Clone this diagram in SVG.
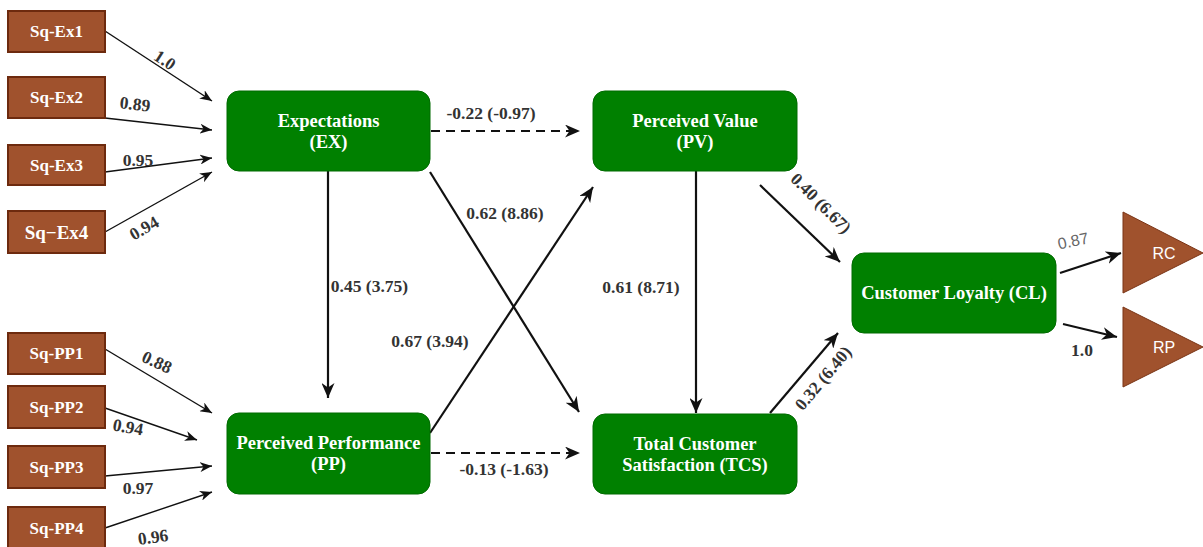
<svg xmlns="http://www.w3.org/2000/svg" width="1203" height="547" viewBox="0 0 1203 547">
<style>
.ind rect{fill:#A0522D;stroke:#6D2A0E;stroke-width:2}
.ind text{font-family:"Liberation Serif",serif;font-weight:bold;font-size:17px;fill:#fff;text-anchor:middle;dominant-baseline:central}
.lat rect{fill:#008000;stroke:#006A00;stroke-width:1}
.lat text{font-family:"Liberation Serif",serif;font-weight:bold;font-size:18.5px;fill:#fff;text-anchor:middle;dominant-baseline:central}
.tri polygon{fill:#A0522D;stroke:#7A3416;stroke-width:1}
.tri text{font-family:"Liberation Sans",Arial,sans-serif;font-size:16px;fill:#fff;text-anchor:middle;dominant-baseline:central}
.thin{stroke:#111;stroke-width:1.4;fill:none;marker-end:url(#ah1)}
.thick{stroke:#111;stroke-width:2.2;fill:none;marker-end:url(#ah2)}
.dash{stroke-dasharray:9 6}
.lbl{font-family:"Liberation Serif",serif;font-weight:bold;font-size:17.5px;fill:#333;text-anchor:middle;dominant-baseline:central}
.lbls{font-family:"Liberation Sans",Arial,sans-serif;font-size:16px;fill:#666;text-anchor:middle;dominant-baseline:central}
</style>
<defs>
<marker id="ah1" viewBox="0 0 12 10" refX="12" refY="5" markerWidth="12" markerHeight="10" markerUnits="userSpaceOnUse" orient="auto">
<path d="M0,0 L12,5 L0,10 L3.5,5 z" fill="#111"/>
</marker>
<marker id="ah2" viewBox="0 0 15 13" refX="15" refY="6.5" markerWidth="15" markerHeight="13" markerUnits="userSpaceOnUse" orient="auto">
<path d="M0,0 L15,6.5 L0,13 L4.5,6.5 z" fill="#111"/>
</marker>
</defs>

<g id="connectors">
<line class="thin" x1="105" y1="31" x2="212" y2="101"/>
<line class="thin" x1="105" y1="118" x2="212" y2="130"/>
<line class="thin" x1="105" y1="172" x2="212" y2="158"/>
<line class="thin" x1="105" y1="232" x2="212" y2="172"/>
<line class="thin" x1="105" y1="349" x2="212" y2="413"/>
<line class="thin" x1="105" y1="408" x2="197" y2="440"/>
<line class="thin" x1="105" y1="476" x2="212" y2="466"/>
<line class="thin" x1="105" y1="528" x2="212" y2="492"/>
<line class="thick dash" x1="431" y1="131" x2="580" y2="131"/>
<line class="thick" x1="328" y1="171" x2="328" y2="398"/>
<line class="thick" x1="430" y1="172" x2="579" y2="412"/>
<line class="thick" x1="430" y1="433" x2="593" y2="187"/>
<line class="thick" x1="696" y1="171" x2="696" y2="413"/>
<line class="thick dash" x1="431" y1="453" x2="580" y2="453"/>
<line class="thick" x1="760" y1="185" x2="840" y2="262"/>
<line class="thick" x1="770" y1="413" x2="838" y2="333"/>
<line class="thick" x1="1060" y1="273" x2="1121" y2="253"/>
<line class="thick" x1="1063" y1="324" x2="1117" y2="337"/>
<text class="lbl" transform="translate(165,60) rotate(33)">1.0</text>
<text class="lbl" transform="translate(135,104) rotate(6)">0.89</text>
<text class="lbl" x="138" y="160">0.95</text>
<text class="lbl" transform="translate(144,228) rotate(-30)">0.94</text>
<text class="lbl" transform="translate(157,362) rotate(25)">0.88</text>
<text class="lbl" transform="translate(128,427) rotate(10)">0.94</text>
<text class="lbl" x="138" y="488">0.97</text>
<text class="lbl" transform="translate(153,537) rotate(-8)">0.96</text>
<text class="lbl" x="491" y="113">-0.22 (-0.97)</text>
<text class="lbl" x="369.5" y="286">0.45 (3.75)</text>
<text class="lbl" x="505" y="213">0.62 (8.86)</text>
<text class="lbl" x="430" y="341">0.67 (3.94)</text>
<text class="lbl" x="641" y="287">0.61 (8.71)</text>
<text class="lbl" x="504" y="469">-0.13 (-1.63)</text>
<text class="lbl" transform="translate(821,203) rotate(45)">0.40 (6.67)</text>
<text class="lbl" transform="translate(823,378) rotate(-50)">0.32 (6.40)</text>
<text class="lbls" transform="translate(1073,241) rotate(-12)">0.87</text>
<text class="lbl" x="1082" y="350">1.0</text>
</g>

<g id="sq-ex1" class="ind"><rect x="8" y="11" width="97" height="41"/><text x="56.5" y="31.5">Sq-Ex1</text></g>
<g id="sq-ex2" class="ind"><rect x="8" y="77" width="97" height="41"/><text x="56.5" y="97.5">Sq-Ex2</text></g>
<g id="sq-ex3" class="ind"><rect x="8" y="145" width="97" height="40"/><text x="56.5" y="165">Sq-Ex3</text></g>
<g id="sq-ex4" class="ind"><rect x="8" y="211" width="97" height="42"/><text x="56.5" y="232" style="font-size:19px">Sq−Ex4</text></g>
<g id="sq-pp1" class="ind"><rect x="8" y="333" width="97" height="41"/><text x="56.5" y="353.5">Sq-PP1</text></g>
<g id="sq-pp2" class="ind"><rect x="8" y="386" width="97" height="42"/><text x="56.5" y="407">Sq-PP2</text></g>
<g id="sq-pp3" class="ind"><rect x="8" y="446" width="97" height="42"/><text x="56.5" y="467">Sq-PP3</text></g>
<g id="sq-pp4" class="ind"><rect x="8" y="507" width="97" height="42"/><text x="56.5" y="528">Sq-PP4</text></g>

<g id="ex" class="lat"><rect x="227" y="91" width="203" height="80" rx="12"/><text x="328.5" y="121">Expectations</text><text x="328.5" y="142">(EX)</text></g>
<g id="pv" class="lat"><rect x="593" y="91" width="204" height="80" rx="12"/><text x="695" y="121">Perceived Value</text><text x="695" y="142">(PV)</text></g>
<g id="pp" class="lat"><rect x="227" y="413" width="203" height="81" rx="12"/><text x="328.5" y="443">Perceived Performance</text><text x="328.5" y="464">(PP)</text></g>
<g id="tcs" class="lat"><rect x="593" y="414" width="204" height="80" rx="12"/><text x="695" y="444">Total Customer</text><text x="695" y="465">Satisfaction (TCS)</text></g>
<g id="cl" class="lat"><rect x="852" y="253" width="204" height="80" rx="12"/><text x="954" y="293">Customer Loyalty (CL)</text></g>

<g id="rc" class="tri"><polygon points="1123,212 1203,253 1123,293"/><text x="1164" y="253">RC</text></g>
<g id="rp" class="tri"><polygon points="1123,307 1203,347 1123,387"/><text x="1164" y="347">RP</text></g>
</svg>
